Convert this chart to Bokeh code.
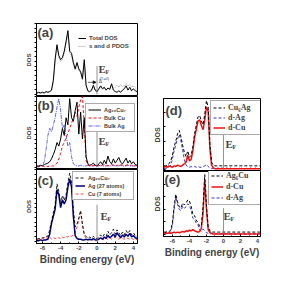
from bokeh.plotting import figure
from bokeh.models import (Range1d, Legend, LegendItem, Label, FixedTicker, Arrow, NormalHead)
from bokeh.core.properties import value
from bokeh.layouts import row, column
from bokeh.embed import file_html
from bokeh.resources import INLINE

# ---------------- data ----------------
E_left = [-6.6, -6.4, -6.2, -6.0, -5.8, -5.6, -5.4, -5.2, -5.0, -4.8, -4.6, -4.4, -4.2, -4.0,
          -3.8, -3.6, -3.4, -3.2, -3.0, -2.8, -2.6, -2.4, -2.2, -2.0, -1.8, -1.6, -1.4, -1.2,
          -1.0, -0.8, -0.6, -0.4, -0.2, 0.0, 0.2, 0.4, 0.6, 0.8, 1.0, 1.2, 1.4, 1.6, 1.8, 2.0,
          2.2, 2.4, 2.6, 2.8, 3.0, 3.2, 3.4, 3.6, 3.8, 4.0, 4.2, 4.4]

a_total = [0.02, 0.03, 0.02, 0.03, 0.02, 0.04, 0.03, 0.04, 0.06, 0.20, 0.50, 0.70, 0.55, 0.49,
           0.52, 0.61, 0.75, 0.90, 0.61, 0.58, 0.45, 0.36, 0.45, 0.36, 0.32, 0.22, 0.49, 0.13,
           0.05, 0.04, 0.06, 0.13, 0.06, 0.04, 0.08, 0.12, 0.08, 0.10, 0.06, 0.09, 0.07, 0.15,
           0.06, 0.04, 0.03, 0.05, 0.03, 0.06, 0.08, 0.12, 0.06, 0.10, 0.05, 0.08, 0.05, 0.04]
a_sd = [0.01, 0.02, 0.02, 0.02, 0.02, 0.03, 0.02, 0.03, 0.05, 0.18, 0.47, 0.67, 0.52, 0.46,
        0.49, 0.58, 0.72, 0.86, 0.58, 0.55, 0.42, 0.34, 0.42, 0.34, 0.30, 0.20, 0.46, 0.11,
        0.04, 0.03, 0.05, 0.11, 0.05, 0.03, 0.07, 0.10, 0.07, 0.09, 0.06, 0.09, 0.08, 0.13,
        0.09, 0.10, 0.13, 0.10, 0.14, 0.11, 0.12, 0.15, 0.12, 0.14, 0.10, 0.12, 0.09, 0.08]

b_cluster = [0.02, 0.02, 0.03, 0.02, 0.04, 0.05, 0.06, 0.08, 0.12, 0.18, 0.25, 0.35, 0.30, 0.40,
             0.55, 0.45, 0.70, 0.60, 0.97, 0.70, 0.65, 0.80, 0.92, 0.47, 0.78, 0.40, 0.70, 0.15,
             0.05, 0.03, 0.04, 0.06, 0.03, 0.02, 0.05, 0.08, 0.04, 0.10, 0.05, 0.16, 0.08, 0.05,
             0.12, 0.06, 0.10, 0.14, 0.07, 0.05, 0.09, 0.13, 0.06, 0.10, 0.05, 0.08, 0.04, 0.03]
b_bulk_cu = [0.01, 0.01, 0.01, 0.02, 0.01, 0.02, 0.01, 0.02, 0.02, 0.02, 0.03, 0.06, 0.12, 0.20,
             0.30, 0.35, 0.42, 0.48, 0.55, 0.62, 0.70, 0.78, 0.72, 0.85, 0.95, 1.00, 0.60, 0.10,
             0.03, 0.02, 0.02, 0.03, 0.02, 0.02, 0.03, 0.02, 0.03, 0.04, 0.03, 0.02, 0.03, 0.04,
             0.03, 0.02, 0.03, 0.03, 0.04, 0.03, 0.02, 0.03, 0.04, 0.03, 0.03, 0.02, 0.03, 0.02]
b_bulk_ag = [0.01, 0.01, 0.02, 0.03, 0.08, 0.25, 0.45, 0.55, 0.50, 0.60, 0.70, 0.85, 0.97, 0.80,
             0.55, 0.60, 0.45, 0.30, 0.35, 0.15, 0.05, 0.03, 0.02, 0.02, 0.03, 0.02, 0.02, 0.02,
             0.03, 0.02, 0.02, 0.02, 0.03, 0.02, 0.02, 0.03, 0.02, 0.02, 0.02, 0.03, 0.02, 0.02,
             0.03, 0.02, 0.02, 0.02, 0.03, 0.02, 0.02, 0.02, 0.03, 0.02, 0.02, 0.02, 0.02, 0.02]

c_cluster = [0.03, 0.04, 0.04, 0.05, 0.05, 0.07, 0.07, 0.16, 0.28, 0.40, 0.50, 0.80, 0.70, 0.52,
             0.64, 0.57, 0.65, 0.82, 0.95, 0.83, 0.44, 0.20, 0.24, 0.33, 0.43, 0.24, 0.10, 0.07,
             0.04, 0.06, 0.04, 0.07, 0.04, 0.04, 0.06, 0.09, 0.06, 0.10, 0.07, 0.14, 0.09, 0.12,
             0.17, 0.10, 0.16, 0.12, 0.08, 0.13, 0.09, 0.15, 0.11, 0.15, 0.09, 0.12, 0.08, 0.06]
c_ag = [0.01, 0.01, 0.02, 0.01, 0.02, 0.02, 0.03, 0.10, 0.25, 0.35, 0.45, 0.72, 0.65, 0.47,
        0.58, 0.52, 0.58, 0.75, 0.87, 0.76, 0.35, 0.08, 0.04, 0.03, 0.03, 0.02, 0.02, 0.03,
        0.02, 0.03, 0.02, 0.04, 0.02, 0.02, 0.03, 0.05, 0.03, 0.06, 0.04, 0.08, 0.05, 0.07,
        0.10, 0.06, 0.12, 0.08, 0.05, 0.09, 0.06, 0.10, 0.07, 0.11, 0.06, 0.08, 0.05, 0.04]
c_cu = [0.02, 0.03, 0.02, 0.04, 0.03, 0.05, 0.04, 0.06, 0.03, 0.05, 0.04, 0.03, 0.05, 0.04,
        0.06, 0.05, 0.07, 0.06, 0.08, 0.07, 0.09, 0.12, 0.20, 0.30, 0.40, 0.22, 0.08, 0.04,
        0.02, 0.03, 0.02, 0.02, 0.03, 0.02, 0.03, 0.04, 0.03, 0.02, 0.04, 0.03, 0.05, 0.03,
        0.04, 0.06, 0.04, 0.03, 0.05, 0.04, 0.03, 0.05, 0.04, 0.03, 0.04, 0.03, 0.02, 0.03]

E_right = [-7.0, -6.8] + E_left

d_total = [0.05, 0.05, 0.06, 0.08, 0.12, 0.20, 0.32, 0.40, 0.50, 0.55, 0.46, 0.34, 0.24, 0.18,
           0.26, 0.17, 0.20, 0.32, 0.50, 0.62, 0.74, 0.76, 0.68, 0.63, 0.78, 0.97, 0.88, 0.36,
           0.10, 0.06, 0.05, 0.05, 0.05, 0.05, 0.05, 0.05, 0.05, 0.05, 0.05, 0.05, 0.05, 0.05,
           0.05, 0.05, 0.05, 0.05, 0.05, 0.05, 0.05, 0.05, 0.05, 0.05, 0.05, 0.05, 0.05, 0.05,
           0.05, 0.05]
d_ag = [0.01, 0.01, 0.02, 0.03, 0.06, 0.15, 0.26, 0.35, 0.43, 0.49, 0.40, 0.27, 0.14, 0.06,
        0.04, 0.03, 0.04, 0.03, 0.04, 0.03, 0.04, 0.03, 0.03, 0.04, 0.05, 0.07, 0.04, 0.02,
        0.01, 0.02, 0.01, 0.01, 0.02, 0.01, 0.02, 0.01, 0.01, 0.02, 0.01, 0.02, 0.01, 0.02,
        0.01, 0.01, 0.02, 0.01, 0.02, 0.01, 0.01, 0.02, 0.01, 0.02, 0.01, 0.01, 0.02, 0.01,
        0.01, 0.01]
d_cu = [0.03, 0.04, 0.03, 0.05, 0.04, 0.03, 0.05, 0.04, 0.06, 0.05, 0.04, 0.06, 0.08, 0.10,
        0.20, 0.12, 0.14, 0.26, 0.45, 0.56, 0.68, 0.70, 0.62, 0.56, 0.70, 0.88, 0.82, 0.30,
        0.06, 0.02, 0.01, 0.01, 0.01, 0.01, 0.01, 0.01, 0.01, 0.01, 0.01, 0.01, 0.01, 0.01,
        0.01, 0.01, 0.01, 0.01, 0.01, 0.01, 0.01, 0.01, 0.01, 0.01, 0.01, 0.01, 0.01, 0.01,
        0.01, 0.01]

e_total = [0.04, 0.04, 0.05, 0.05, 0.07, 0.19, 0.45, 0.64, 0.52, 0.44, 0.42, 0.50, 0.47, 0.50,
           0.55, 0.53, 0.45, 0.32, 0.30, 0.23, 0.19, 0.13, 0.15, 0.44, 0.95, 0.45, 0.12, 0.06,
           0.04, 0.04, 0.04, 0.04, 0.04, 0.04, 0.04, 0.04, 0.04, 0.04, 0.04, 0.04, 0.04, 0.04,
           0.04, 0.04, 0.04, 0.04, 0.04, 0.04, 0.04, 0.04, 0.04, 0.04, 0.04, 0.04, 0.04, 0.04,
           0.04, 0.04]
e_cu = [0.02, 0.03, 0.02, 0.03, 0.02, 0.03, 0.04, 0.03, 0.04, 0.03, 0.04, 0.05, 0.04, 0.06,
        0.05, 0.07, 0.06, 0.08, 0.06, 0.05, 0.04, 0.05, 0.10, 0.35, 0.86, 0.40, 0.08, 0.03,
        0.02, 0.01, 0.01, 0.01, 0.01, 0.01, 0.01, 0.01, 0.01, 0.01, 0.01, 0.01, 0.01, 0.01,
        0.01, 0.01, 0.01, 0.01, 0.01, 0.01, 0.01, 0.01, 0.01, 0.01, 0.01, 0.01, 0.01, 0.01,
        0.01, 0.01]
e_ag = [0.01, 0.01, 0.02, 0.02, 0.04, 0.15, 0.40, 0.60, 0.48, 0.40, 0.38, 0.45, 0.42, 0.44,
        0.49, 0.46, 0.38, 0.26, 0.24, 0.18, 0.15, 0.08, 0.05, 0.09, 0.06, 0.03, 0.02, 0.01,
        0.02, 0.01, 0.01, 0.02, 0.01, 0.01, 0.02, 0.01, 0.01, 0.02, 0.01, 0.01, 0.02, 0.01,
        0.01, 0.02, 0.01, 0.01, 0.02, 0.01, 0.01, 0.02, 0.01, 0.01, 0.02, 0.01, 0.01, 0.02,
        0.01, 0.01]

x_ticks = [-6, -4, -2, 0, 2, 4]
x_tick_labels = ["-6", "-4", "-2", "0", "2", "4"]
x_minor = [-7, -5, -3, -1, 1, 3]
EF = 0.0
ef_line_top = {"a": 0.40, "b": 0.53, "c": 0.51, "d": 0.52, "e": 0.42}

SANS = "Liberation Sans"
SERIF = "Liberation Serif"


def panel(w, h, xr, bl, br, bt, bb, show_x, label_px, yticks, tick_in, tick_out):
    p = figure(width=w, height=h, x_range=Range1d(*xr), y_range=Range1d(-0.03, 1.0),
               output_backend="svg", toolbar_location=None,
               x_axis_location="below" if show_x else None,
               min_border_left=bl, min_border_right=br,
               min_border_top=bt, min_border_bottom=bb)
    p.grid.visible = False
    p.outline_line_color = "black"
    p.outline_line_width = 1
    p.background_fill_color = "white"
    p.border_fill_color = "white"
    ya = p.yaxis[0]
    ya.axis_label = "DOS"
    ya.axis_label_text_font = SANS
    ya.axis_label_text_font_style = "bold"
    ya.axis_label_text_font_size = label_px
    ya.major_label_standoff = 0
    ya.axis_label_standoff = 3
    ya.ticker = FixedTicker(ticks=[], minor_ticks=yticks)
    ya.minor_tick_out = tick_out
    ya.minor_tick_in = tick_in
    ya.axis_line_color = "black"
    if show_x:
        xa = p.xaxis[0]
        xa.ticker = FixedTicker(ticks=x_ticks, minor_ticks=x_minor)
        xa.major_label_overrides = {t: s for t, s in zip(x_ticks, x_tick_labels)}
        xa.major_label_text_font = SANS
        xa.major_label_text_font_style = "bold"
        xa.major_label_text_font_size = "6px"
        xa.major_label_standoff = 2
        xa.major_tick_in = 2
        xa.major_tick_out = 0
        xa.minor_tick_in = 1
        xa.minor_tick_out = 0
        xa.axis_label = "Binding energy (eV)"
        xa.axis_label_text_font = SANS
        xa.axis_label_text_font_style = "bold"
        xa.axis_label_text_font_size = "10px"
        xa.axis_label_standoff = 1
        xa.axis_line_color = "black"
    return p


def tag(p, text, x, y):
    p.add_layout(Label(x=x, y=y, x_units="screen", y_units="screen", text=text,
                       text_font=SANS, text_font_style="bold", text_font_size="13px",
                       text_baseline="top"))


def ef_label(p, x, y):
    p.add_layout(Label(x=x, y=y, x_units="screen", y_units="screen", text="E",
                       text_font=SERIF, text_font_style="bold", text_font_size="11px",
                       text_baseline="top"))
    p.add_layout(Label(x=x + 7, y=y - 6, x_units="screen", y_units="screen", text="F",
                       text_font=SERIF, text_font_style="bold", text_font_size="6px",
                       text_baseline="top"))


def ef_line(p, key):
    p.segment(x0=[EF], y0=[0], x1=[EF], y1=[ef_line_top[key]], line_color="#777777",
              line_width=0.8)


def legend(p, items, loc, font, size, style, gw, gh, spacing, padding, border, lw=20):
    lg = Legend(items=[LegendItem(label=value(t), renderers=[r]) for t, r in items],
                location=loc)
    lg.label_text_font = font
    lg.label_text_font_size = size
    lg.label_text_font_style = style
    lg.glyph_width = gw
    lg.glyph_height = gh
    lg.label_height = gh
    lg.label_width = lw
    lg.label_standoff = 3
    lg.spacing = spacing
    lg.padding = padding
    lg.margin = 0
    lg.border_line_color = "#555555" if border else None
    lg.border_line_width = 0.7
    lg.background_fill_color = "white"
    lg.background_fill_alpha = 1.0 if border else 0.0
    p.add_layout(lg)


XL = (-6.65, 4.45)
XR = (-7.05, 4.35)
left_ticks = [i / 15 for i in range(16)]
right_ticks = [0.0, 0.2, 0.4, 0.6, 0.8]

# ---- (a)
pa = panel(145, 96, XL, 36, 8, 23, 0, False, "6px", left_ticks, 0, 2)
ra2 = pa.line(E_left, a_sd, line_color="#888888", line_width=0.8, line_dash="1 1")
ra1 = pa.line(E_left, a_total, line_color="black", line_width=1)
ef_line(pa, "a")
legend(pa, [("Total DOS", ra1), ("s and d PDOS", ra2)], (42, 47), SANS, "6px", "bold",
       8, 6, 2, 0, False)
tag(pa, "(a)", 1, 72)
ef_label(pa, 62, 34)
pa.add_layout(Label(x=63, y=21, x_units="screen", y_units="screen", text="(T=0)",
                    text_font=SANS, text_font_size="4px", text_baseline="top"))
pa.add_layout(Arrow(end=NormalHead(size=3, line_width=0.6), x_start=-1.0, y_start=0.17,
                    x_end=-0.1, y_end=0.17, line_width=0.6))
pa.add_layout(Label(x=0.2, y=0.14, text="Δ", text_font=SANS, text_font_size="5px"))

# ---- (b)
pb = panel(145, 73, XL, 36, 8, 0, 0, False, "6px", left_ticks, 0, 2)
rb3 = pb.line(E_left, b_bulk_ag, line_color="#3a3aff", line_width=0.8, line_dash="4 1 1 1")
rb2 = pb.line(E_left, b_bulk_cu, line_color="#ff1010", line_width=1, line_dash="3 2")
rb1 = pb.line(E_left, b_cluster, line_color="black", line_width=1)
ef_line(pb, "b")
legend(pb, [("Ag₂₀Cu₇", rb1), ("Bulk Cu", rb2), ("Bulk Ag", rb3)], (49, 37), SANS,
       "5.5px", "bold", 13, 7, 1, 2, True, 28)
tag(pb, "(b)", 1, 72)
ef_label(pb, 62, 35)

# ---- (c)
pc = panel(145, 99, XL, 36, 8, 0, 25, True, "6px", left_ticks, 0, 2)
rc3 = pc.line(E_left, c_cu, line_color="#ff4a4a", line_width=1, line_dash="3 2")
rc2 = pc.line(E_left, c_ag, line_color="#00007a", line_width=1.5)
rc1 = pc.line(E_left, c_cluster, line_color="black", line_width=0.9, line_dash="3 2")
ef_line(pc, "c")
legend(pc, [("Ag₂₀Cu₇", rc1), ("Ag (27 atoms)", rc2), ("Cu (7 atoms)", rc3)], (36, 43),
       SANS, "5.5px", "bold", 10, 7, 1, 2, True, 43)
tag(pc, "(c)", 1, 71)
ef_label(pc, 64, 34)

# ---- (d)
pd_ = panel(139, 171, XR, 18, 24, 98, 0, False, "7px", right_ticks, 2, 0)
rd2 = pd_.line(E_right, d_ag, line_color="#3434d0", line_width=1, line_dash="3 2")
rd3 = pd_.line(E_right, d_cu, line_color="#ee1111", line_width=1.5)
rd1 = pd_.line(E_right, d_total, line_color="black", line_width=1, line_dash="3 2")
ef_line(pd_, "d")
legend(pd_, [("Cu₆Ag", rd1), ("d-Ag", rd2), ("d-Cu", rd3)], (47, 36), SERIF, "8px",
       "bold", 12, 9, 1, 2, True, 31)
tag(pd_, "(d)", 2, 69)
ef_label(pd_, 62, 34)

# ---- (e)
pe = panel(139, 89, XR, 18, 24, 0, 22, True, "7px", right_ticks, 2, 0)
re3 = pe.line(E_right, e_ag, line_color="#3434d0", line_width=1, line_dash="3 2")
re2 = pe.line(E_right, e_cu, line_color="#ee1111", line_width=1.5)
re1 = pe.line(E_right, e_total, line_color="black", line_width=1, line_dash="3 2")
ef_line(pe, "e")
legend(pe, [("Ag₆Cu", re1), ("d-Cu", re2), ("d-Ag", re3)], (45, 31), SERIF, "8px",
       "bold", 12, 9, 2, 2, True, 33)
tag(pe, "(e)", 1, 65)
ef_label(pe, 60, 27)

layout = row(column(pa, pb, pc), column(pd_, pe))
open("out.html", "w").write(file_html(layout, INLINE))
